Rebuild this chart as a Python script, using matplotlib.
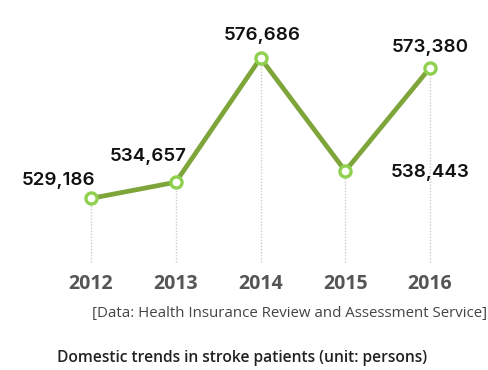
import matplotlib
matplotlib.use("Agg")
import matplotlib.pyplot as plt
from matplotlib.transforms import blended_transform_factory

years = [2012, 2013, 2014, 2015, 2016]
patients = [529186, 534657, 576686, 538443, 573380]
labels = ["529,186", "534,657", "576,686", "538,443", "573,380"]
# label offsets in pixels relative to each point
label_dx = [-32, -28, 2, 85, 0]
label_dy = [18, 26, 22, -1, 20]

source = "[Data: Health Insurance Review and Assessment Service]"
title = "Domestic trends in stroke patients (unit: persons)"

W, H = 488, 370
fig = plt.figure(figsize=(W / 100, H / 100), dpi=100)
ax = fig.add_axes([0, 0, 1, 1])
ax.set_xlim(2010.926, 2016.684)
ax.set_ylim(471105, 596313)
ax.axis("off")

trans = blended_transform_factory(ax.transData, ax.transAxes)
ylo, yhi = ax.get_ylim()
for x, v in zip(years, patients):
    frac = (v - ylo) / (yhi - ylo)
    ax.plot([x, x], [1 - 262 / H, frac], transform=trans, color="#cccccc",
            lw=1, ls=(0, (1, 1.2)), zorder=1)

ax.plot(years, patients, color="#7ea53a", lw=3.4, zorder=2,
        solid_capstyle="round", solid_joinstyle="round")
ax.plot(years, patients, ls="none", marker="o", ms=8, mfc="white",
        mec="#8fd14f", mew=2.4, zorder=3)

for x, v, lab, dx, dy in zip(years, patients, labels, label_dx, label_dy):
    ax.annotate(lab, (x, v), xytext=(dx, dy), textcoords="offset pixels",
                ha="center", va="center", fontsize=13.5, color="#111111",
                family="Inter", fontweight="semibold")

for x in years:
    ax.text(x, 1 - 284 / H, str(x), transform=trans, ha="center", va="center",
            fontsize=14, fontweight="bold", color="#555555", family="Open Sans")

fig.text(487 / W, 1 - 314 / H, source, ha="right", va="center", fontsize=10.8,
         color="#444444", family="Open Sans", fontweight="normal")
fig.text(57 / W, 1 - 358 / H, title, ha="left", va="center", fontsize=11.25,
         color="#222222", family="Open Sans", fontweight="semibold")

fig.savefig("out.png", dpi=100)
